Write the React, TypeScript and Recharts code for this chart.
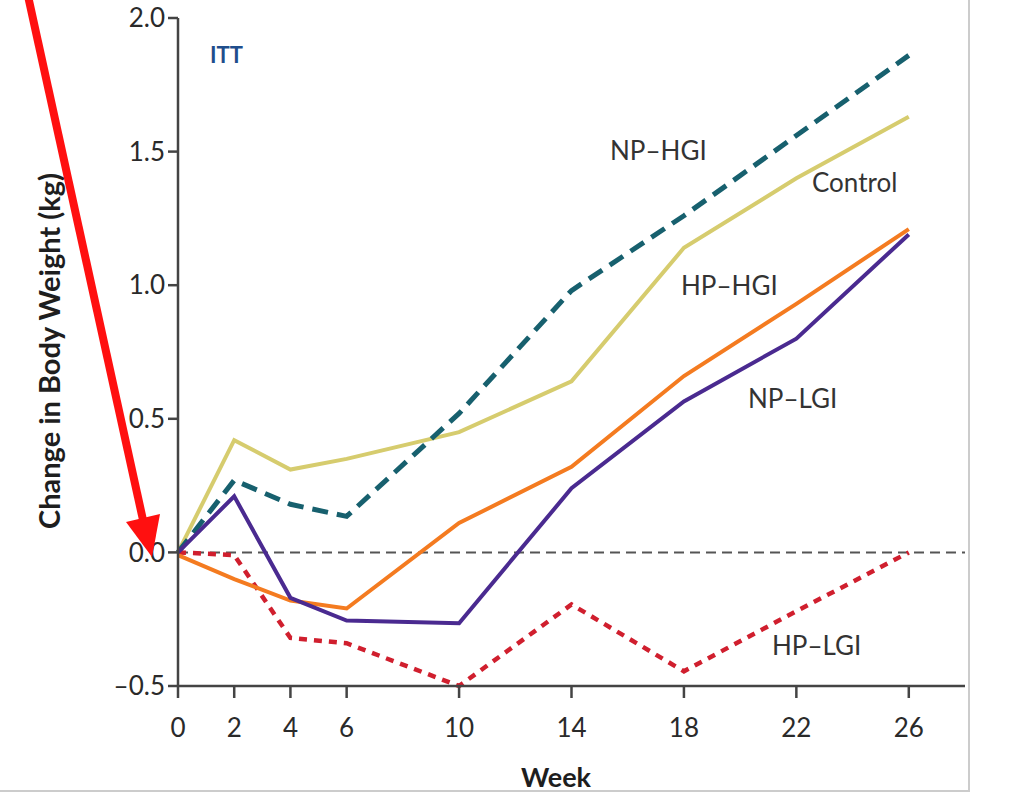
import { LineChart, Line, XAxis, YAxis, ReferenceLine } from 'recharts';

const weeks = [0, 2, 4, 6, 10, 14, 18, 22, 26];
const control = [0, 0.42, 0.31, 0.35, 0.45, 0.64, 1.14, 1.4, 1.63];
const npHgi = [0, 0.27, 0.18, 0.135, 0.52, 0.98, 1.26, 1.56, 1.86];
const hpHgi = [-0.01, -0.1, -0.18, -0.21, 0.11, 0.32, 0.66, 0.93, 1.21];
const npLgi = [0, 0.21, -0.17, -0.255, -0.265, 0.24, 0.565, 0.8, 1.19];
const hpLgi = [0, -0.01, -0.32, -0.34, -0.5, -0.195, -0.445, -0.22, 0];
const xTicks = [0, 2, 4, 6, 10, 14, 18, 22, 26];
const yTicks = [-0.5, 0, 0.5, 1.0, 1.5, 2.0];

const data = weeks.map((w, i) => ({
  week: w, control: control[i], npHgi: npHgi[i], hpHgi: hpHgi[i], npLgi: npLgi[i], hpLgi: hpLgi[i],
}));

const FONT = 'Lato, "Open Sans", sans-serif';
const AXIS = '#444';
const tick = { fill: '#2a2a2a', fontSize: 26, fontFamily: FONT };
const fmtY = (v: number) => (v < 0 ? '\u2013' + Math.abs(v).toFixed(1) : v.toFixed(1));

const seriesLabel = { fontFamily: FONT, fontSize: 26, fill: '#333' };
const axisTitle = { fontFamily: FONT, fontWeight: 700, fill: '#1e1e1e' };

export default function App() {
  return (
    <div style={{ position: 'absolute', left: 0, top: 0, width: 1024, height: 796, background: '#fff' }}>
      <div style={{ position: 'absolute', left: 0, top: 0, width: 968, height: 790, borderRight: '2px solid #ccc', borderBottom: '2px solid #ccc' }} />
      <LineChart width={1024} height={796} data={data} margin={{ top: 18, right: 59, bottom: 30, left: 98 }}>
        <XAxis
          dataKey="week" type="number" domain={[0, 28]} ticks={xTicks} interval={0}
          tick={tick} tickSize={12} tickMargin={21}
          axisLine={{ stroke: AXIS, strokeWidth: 2.5 }} tickLine={{ stroke: AXIS, strokeWidth: 2.5 }}
          height={80}
        />
        <YAxis
          type="number" domain={[-0.5, 2.0]} ticks={yTicks} interval={0} tickFormatter={fmtY}
          tick={tick} tickSize={10} tickMargin={3}
          axisLine={{ stroke: AXIS, strokeWidth: 2.5 }} tickLine={{ stroke: AXIS, strokeWidth: 2.5 }}
          width={80}
        />
        <ReferenceLine y={0} stroke="#555" strokeWidth={2} strokeDasharray="10 6" />
        <Line dataKey="control" stroke="#d6cc6e" strokeWidth={4} dot={false} isAnimationActive={false} />
        <Line dataKey="npHgi" stroke="#17606e" strokeWidth={5} strokeDasharray="16 9" dot={false} isAnimationActive={false} />
        <Line dataKey="hpLgi" stroke="#d01f2e" strokeWidth={4.5} strokeDasharray="8 7" dot={false} isAnimationActive={false} />
        <Line dataKey="hpHgi" stroke="#f47b20" strokeWidth={4} dot={false} isAnimationActive={false} />
        <Line dataKey="npLgi" stroke="#4a2a90" strokeWidth={4} dot={false} isAnimationActive={false} />
      </LineChart>
      <svg width={1024} height={796} style={{ position: 'absolute', left: 0, top: 0, pointerEvents: 'none' }}>
        <text x={210} y={63} style={{ fontFamily: FONT, fontSize: 22, fontWeight: 700, fill: '#1f4e8c' }}>ITT</text>
        <text x={610} y={160} style={seriesLabel}>NP–HGI</text>
        <text x={812} y={192} style={seriesLabel}>Control</text>
        <text x={681} y={295} style={seriesLabel}>HP–HGI</text>
        <text x={748} y={408} style={seriesLabel}>NP–LGI</text>
        <text x={772} y={655} style={seriesLabel}>HP–LGI</text>
        <text x={556} y={787} textAnchor="middle" style={{ ...axisTitle, fontSize: 27 }}>Week</text>
        <text x={0} y={0} textAnchor="middle" dominantBaseline="central" transform="translate(48,351) rotate(-90)" style={{ ...axisTitle, fontSize: 29 }}>
          Change in Body Weight (kg)
        </text>
        <line x1={28} y1={-4} x2={143} y2={520} stroke="#ff1010" strokeWidth={8} />
        <polygon points="126,522 160,514 152,557" fill="#ff1010" />
      </svg>
    </div>
  );
}
